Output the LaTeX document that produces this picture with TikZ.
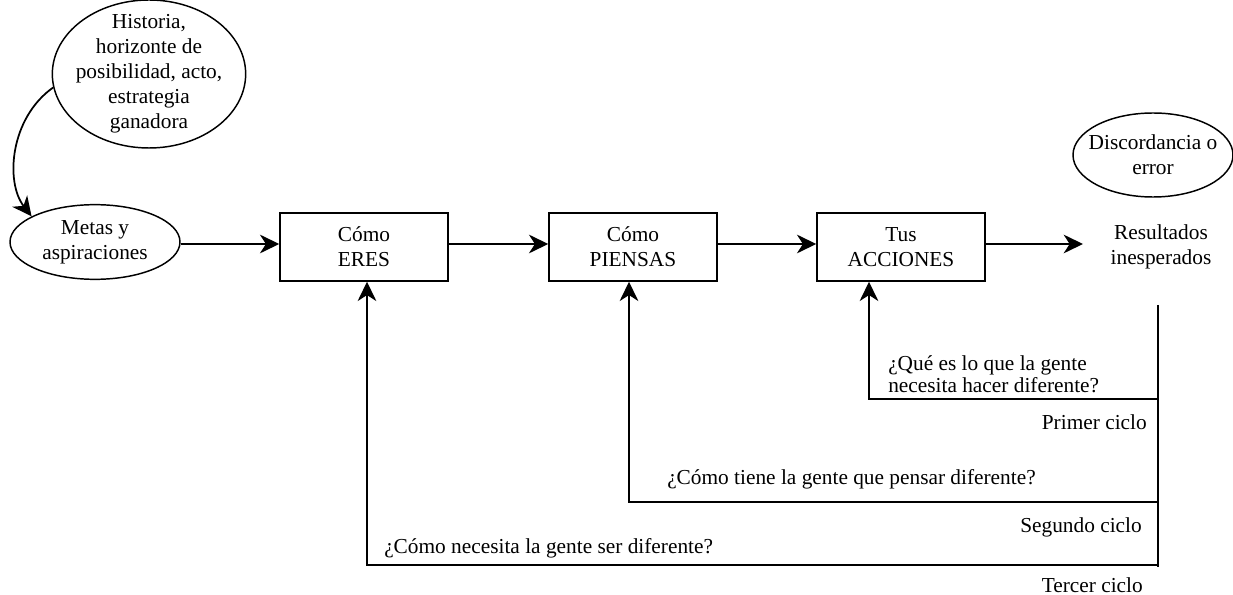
\documentclass[tikz,border=0pt]{standalone}
\usepackage{fontspec}
\setmainfont{Liberation Serif}
\usetikzlibrary{arrows.meta,shapes.geometric}
\begin{document}
\begin{tikzpicture}[x=0.75pt,y=-0.75pt,
  every node/.style={font=\fontsize{16}{18.75}\selectfont, inner sep=0pt},
  ell/.style={draw, ellipse, line width=1.1pt, align=center},
  boxn/.style={draw, rectangle, line width=1.1pt, align=center, minimum width=126pt, minimum height=51pt},
  arr/.style={line width=1.3pt, -{Stealth[length=14.5pt,width=14pt,inset=4.5pt]}},
  ln/.style={line width=1.3pt},
  qtext/.style={align=left, font=\fontsize{16}{16.5}\selectfont}]
\useasboundingbox (0,0) rectangle (1233,595);
\node[ell, inner xsep=-12pt, inner ysep=-22pt, minimum width=145pt, minimum height=111pt] (hist) at (149,74) {Historia,\\horizonte de\\posibilidad, acto,\\estrategia\\ganadora};
\node[ell, minimum width=127.5pt, minimum height=56pt] (metas) at (95,242) {Metas y\\aspiraciones};
\node[boxn] (b1) at (364,247) {Cómo\\ERES};
\node[boxn] (b2) at (633,247) {Cómo\\PIENSAS};
\node[boxn] (b3) at (901,247) {Tus\\ACCIONES};
\node[align=center] (res) at (1161,247) {Resultados\\inesperados};
\node[ell, inner xsep=-10pt, inner ysep=-4pt, minimum width=120pt, minimum height=63pt] (disc) at (1153,155) {Discordancia o\\error};
\coordinate (rin) at (1083,244);
\coordinate (vt) at (1158,305);
\coordinate (vb) at (1158,567);
\coordinate (c1) at (869,399);
\coordinate (c2) at (629,502);
\coordinate (c3) at (367,565);
\coordinate (e1) at (1158,399);
\coordinate (e2) at (1158,502);
\coordinate (e3) at (1158,565);
% main flow
\draw[arr] (metas.east |- rin) -- (b1.west |- rin);
\draw[arr] (b1.east |- rin) -- (b2.west |- rin);
\draw[arr] (b2.east |- rin) -- (b3.west |- rin);
\draw[arr] (b3.east |- rin) -- (rin);
\draw[arr] (hist.188) .. controls (10,118) and (5,182) .. (metas.158);
% feedback
\draw[ln] (vt) -- (vb);
\draw[arr] (e1) -- (c1) -- (c1 |- b3.south);
\draw[arr] (e2) -- (c2) -- (c2 |- b2.south);
\draw[arr] (e3) -- (c3) -- (c3 |- b1.south);
% labels
\node[qtext, anchor=west] (q1) at (888,374) {¿Qué es lo que la gente\\necesita hacer diferente?};
\node[anchor=east] (p1) at (1147,422) {Primer ciclo};
\node[anchor=west] (q2) at (667,479) {¿Cómo tiene la gente que pensar diferente?};
\node[anchor=east] (p2) at (1142,527) {Segundo ciclo};
\node[anchor=west] (q3) at (384,548) {¿Cómo necesita la gente ser diferente?};
\node[anchor=base east] (p3) at (1143,592) {Tercer ciclo};
\end{tikzpicture}
\end{document}
